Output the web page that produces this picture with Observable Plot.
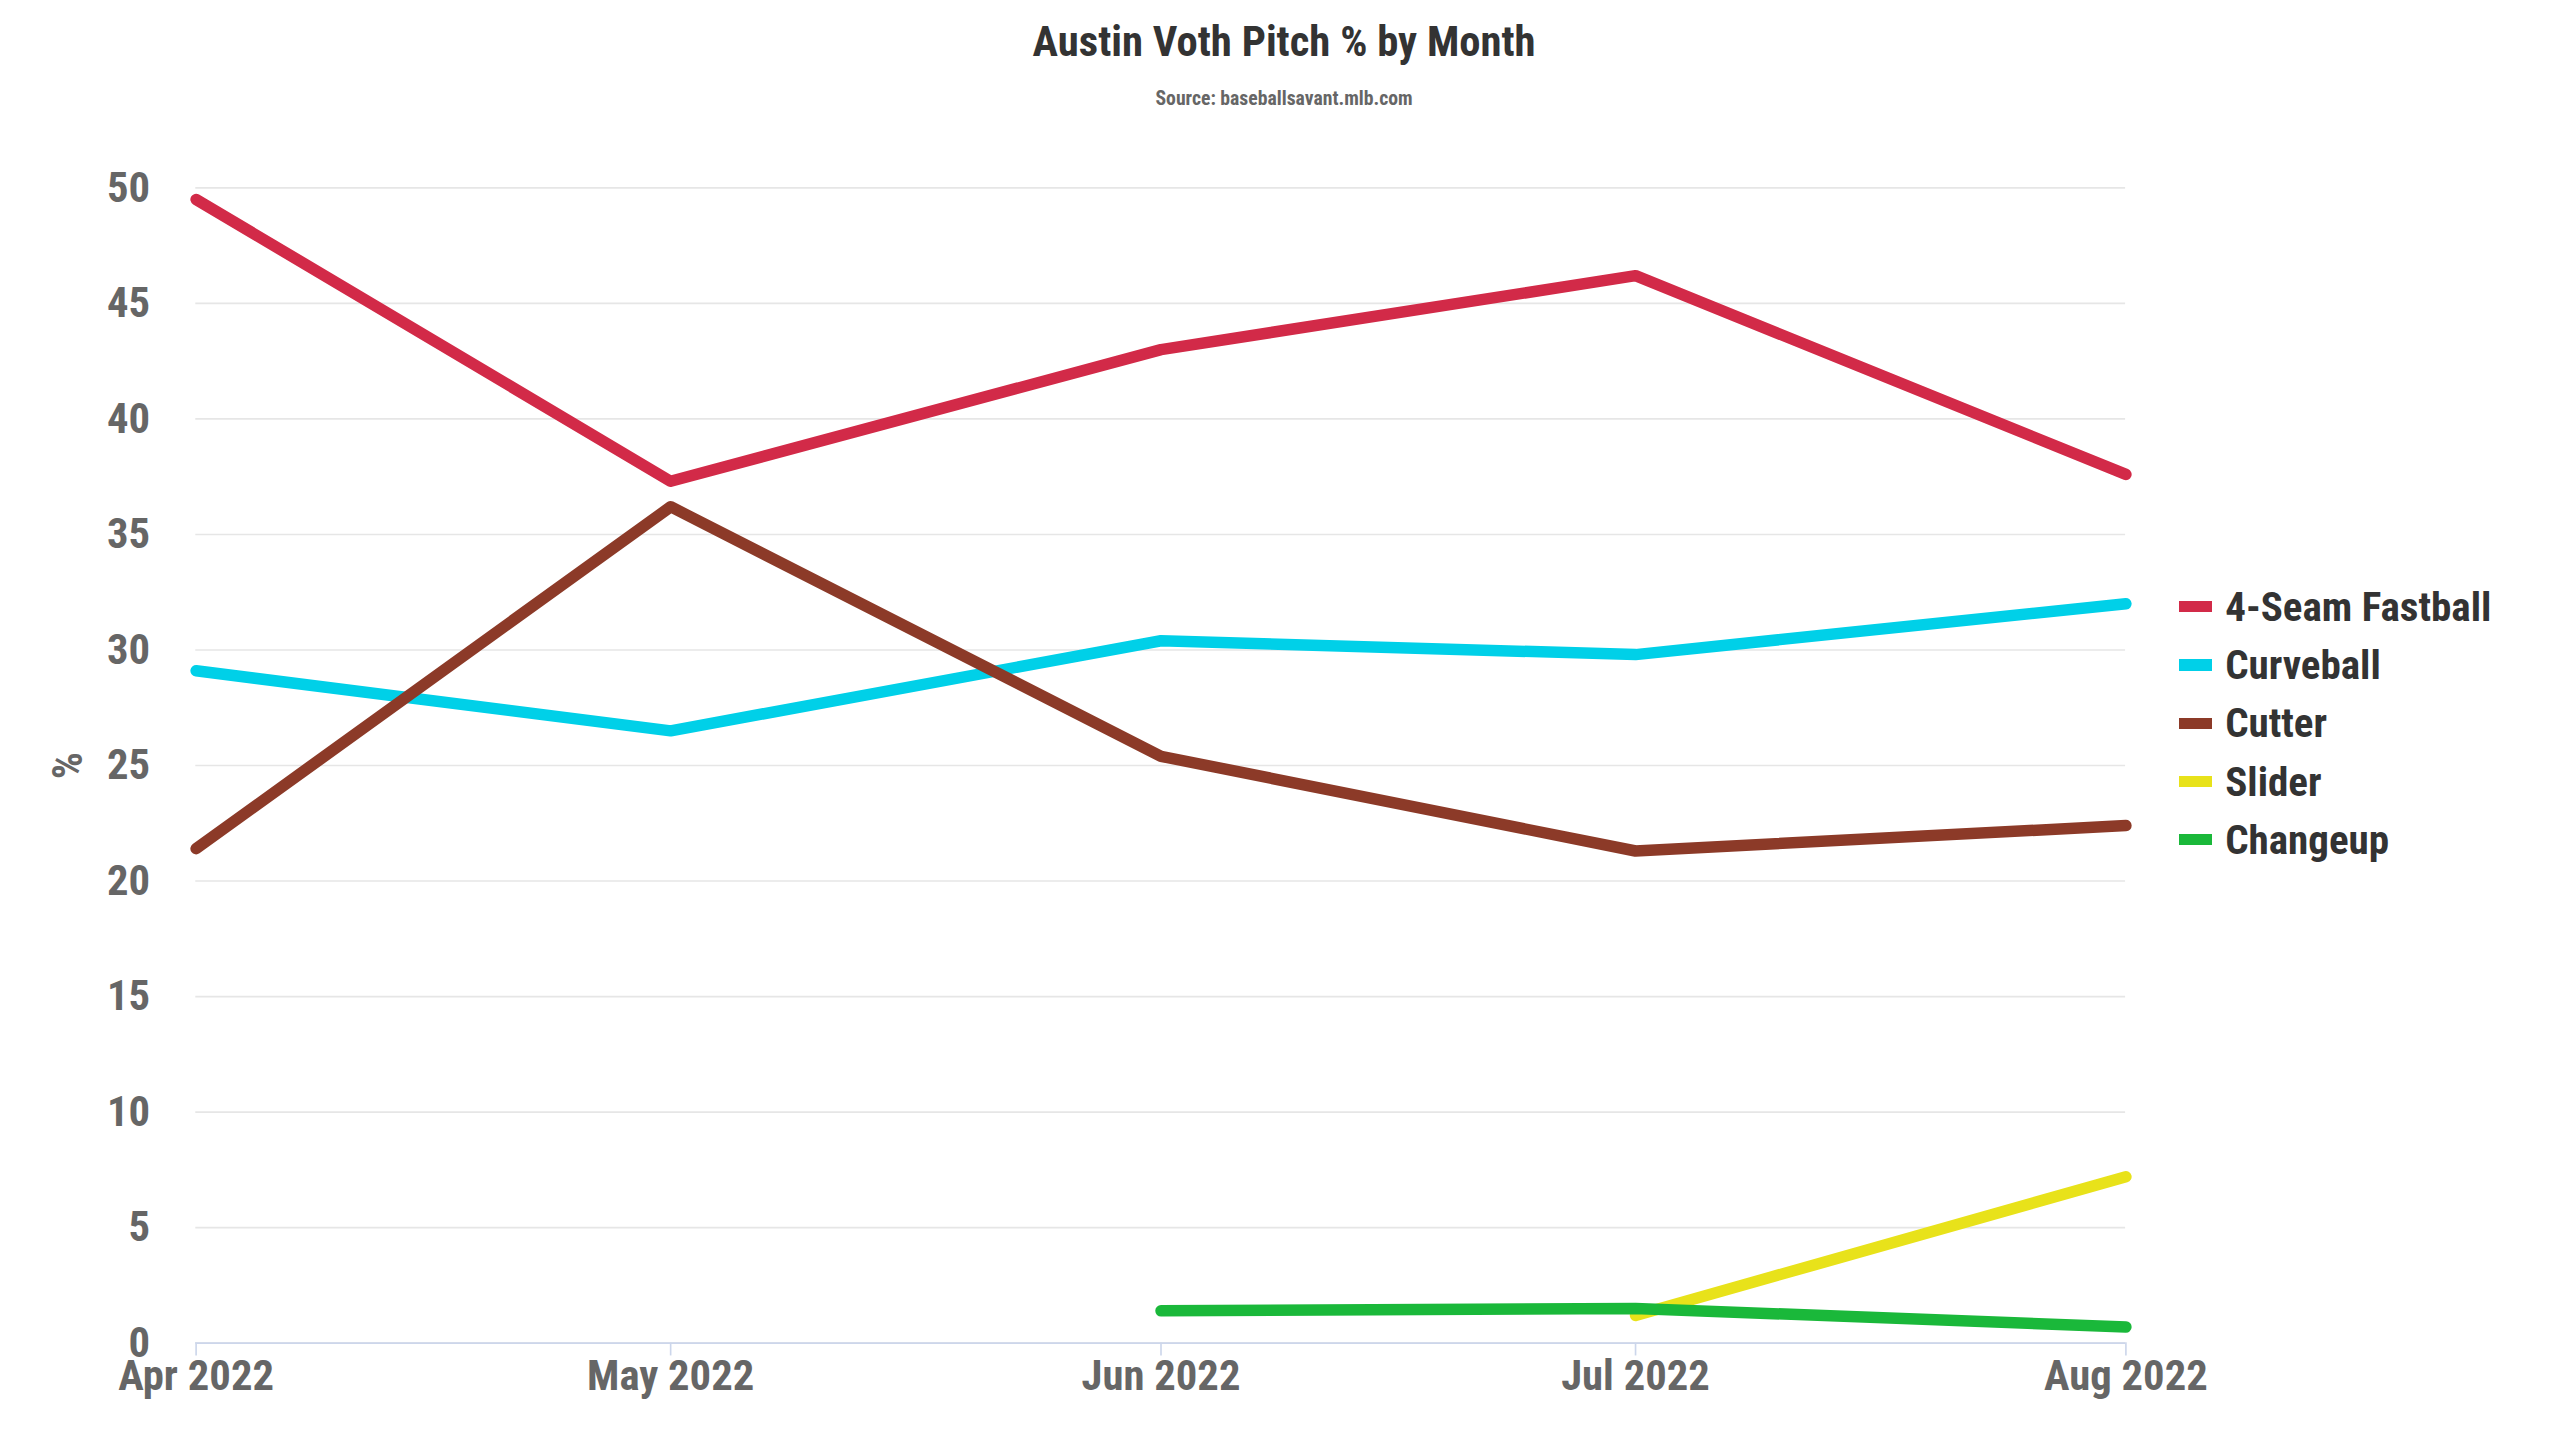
<!DOCTYPE html>
<html><head><meta charset="utf-8">
<script src="https://cdn.jsdelivr.net/npm/d3@7"></script>
<script src="https://cdn.jsdelivr.net/npm/@observablehq/plot@0.6"></script>
<style>
body{margin:0;background:#fff;font-family:"Roboto Condensed","Liberation Sans Narrow","Roboto",sans-serif;}
#wrap{position:relative;width:1560px;height:880px;zoom:1.641;}
#title{position:absolute;top:10px;left:0;width:1565px;text-align:center;font-size:26px;font-weight:bold;color:#333;}
#sub{position:absolute;top:53px;left:0;width:1565px;text-align:center;font-size:12px;font-weight:bold;color:#666;}
#chart{position:absolute;top:0;left:0;}
#legend{position:absolute;left:1328px;top:352px;font-size:25px;font-weight:bold;color:#333;}
.li{height:35.5px;display:flex;align-items:center;}
.sw{width:20px;height:7px;margin-right:8px;}
</style></head><body>
<div id="wrap"><div id="chart"></div><div id="title">Austin Voth Pitch % by Month</div><div id="sub">Source: baseballsavant.mlb.com</div><div id="legend"></div></div>
<script>
const months = ["2022-04-01","2022-05-01","2022-06-01","2022-07-01","2022-08-01"];
const monthLabels = ["Apr 2022","May 2022","Jun 2022","Jul 2022","Aug 2022"];
const yTicks = [0,5,10,15,20,25,30,35,40,45,50];
const pitches = ["4-Seam Fastball","Curveball","Cutter","Slider","Changeup"];
const colors = ["#d22a48","#00d0e8","#8c3a28","#e8e21a","#1ab83a"];
const fastball = [49.5,37.3,43.0,46.2,37.6];
const curveball = [29.1,26.5,30.4,29.8,32.0];
const cutter = [21.4,36.2,25.4,21.3,22.4];
const slider = [null,null,null,1.2,7.2];
const changeup = [null,null,1.4,1.5,0.7];
const series = [fastball,curveball,cutter,slider,changeup];
const data = [];
series.forEach((s,i)=>s.forEach((v,j)=>{ if(v!=null) data.push({pitch:pitches[i],date:new Date(months[j]+"T00:00:00Z"),value:v}); }));
const dates = months.map(m=>new Date(m+"T00:00:00Z"));
const plot = Plot.plot({
  width:1560,height:880,marginLeft:119,marginRight:265,marginTop:114,marginBottom:62,
  style:{fontFamily:'"Roboto Condensed","Liberation Sans Narrow",Roboto,sans-serif',fontSize:"26px",fontWeight:"bold",color:"#666"},
  x:{type:"utc",domain:[dates[0],dates[4]],ticks:dates,tickFormat:(d)=>monthLabels[dates.findIndex(x=>+x===+d)],label:null,tickSize:8,tickPadding:2},
  y:{domain:[0,50],ticks:yTicks,label:"%",labelAnchor:"center",labelArrow:"none",labelOffset:88,tickSize:0,tickPadding:28},
  color:{domain:pitches,range:colors},
  marks:[
    Plot.gridY(yTicks,{stroke:"#e6e6e6",strokeOpacity:1}),
    Plot.ruleY([0],{stroke:"#ccd6eb"}),
    Plot.line(data,{x:"date",y:"value",z:"pitch",stroke:"pitch",strokeWidth:7,strokeLinecap:"round",strokeLinejoin:"round"})
  ]
});
plot.querySelectorAll("g[aria-label='x-axis tick']").forEach(g=>g.setAttribute("stroke","#ccd6eb"));
document.getElementById("chart").appendChild(plot);
const lg=document.getElementById("legend");
pitches.forEach((p,i)=>{lg.innerHTML+=`<div class="li"><div class="sw" style="background:${colors[i]}"></div>${p}</div>`;});
</script></body></html>
